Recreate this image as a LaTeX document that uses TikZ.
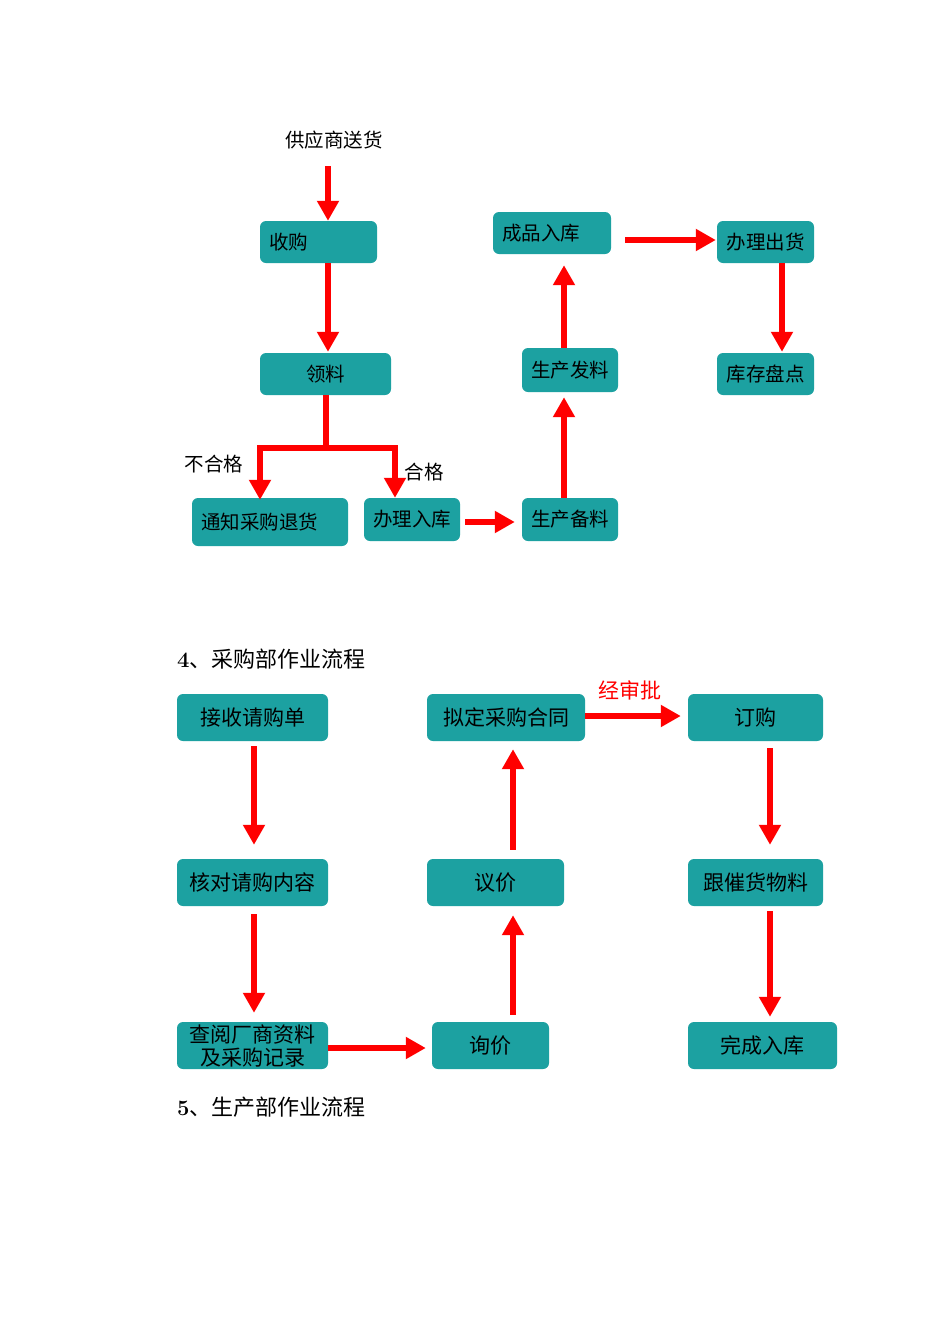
\documentclass[tikz,border=0pt]{standalone}
\usepackage{fontspec}
\newfontfamily\cjk{Noto Sans CJK SC}
\usetikzlibrary{arrows.meta}
\definecolor{boxteal}{RGB}{28,161,161}
\tikzset{
  box/.style={fill=boxteal, rounded corners=6pt, inner sep=0pt, font=\cjk\fontsize{19.5}{22}\selectfont, text=black},
  lbox/.style={box, font=\cjk\fontsize{21}{24}\selectfont},
  arr/.style={draw=red, line width=6.5pt, line join=miter, -{Triangle[width=21pt,length=20pt]}},
  lbl/.style={font=\cjk\fontsize{19.5}{22}\selectfont, inner sep=0pt},
  ttl/.style={font=\cjk\fontsize{22}{25}\selectfont, inner sep=0pt, anchor=west}
}
\begin{document}
\begin{tikzpicture}[x=1pt,y=-1pt]
\useasboundingbox[fill=white] (0,0) rectangle (950,1344);
% ---------- top part ----------
\node[lbl] (gys) at (334,140) {供应商送货};
\node[box, minimum width=117pt, minimum height=42pt, text width=99pt, align=left] (shougou) at (318.5,242) {收购};
\node[box, minimum width=131pt, minimum height=42pt] (liaoliao) at (325.5,374) {领料};
\node[box, minimum width=156pt, minimum height=48pt, text width=138pt, align=left] (tongzhi) at (270,522) {通知采购退货};
\node[box, minimum width=96pt, minimum height=43pt] (banli) at (412,519.5) {办理入库};
\node[box, minimum width=96pt, minimum height=43pt] (beiliao) at (570,519.5) {生产备料};
\node[box, minimum width=96pt, minimum height=44pt] (faliao) at (570,370) {生产发料};
\node[box, minimum width=118pt, minimum height=42pt, text width=100pt, align=left] (chengpin) at (552,233) {成品入库};
\node[box, minimum width=97pt, minimum height=42pt] (chuhuo) at (765.5,242) {办理出货};
\node[box, minimum width=97pt, minimum height=42pt] (pandian) at (765.5,374) {库存盘点};
\node[lbl] (buhege) at (214,464) {不合格};
\node[lbl] (hege) at (424,472) {合格};

\draw[arr] ([shift={(-6,17)}]gys.south) -- ([xshift=9.5pt]shougou.north);
\draw[arr] ([xshift=9.5pt]shougou.south) -- ([shift={(2.5,-1)}]liaoliao.north);
\coordinate (split) at (326,448);
\draw[arr] ([xshift=0.5pt]liaoliao.south) -- (split) -| ([shift={(-10,2)}]tongzhi.north);
\draw[arr] (split) -| ([shift={(-17,0)}]banli.north);
\draw[arr] ([shift={(5,2.5)}]banli.east) -- ([shift={(-7,2.5)}]beiliao.west);
\draw[arr] ([xshift=-6pt]beiliao.north) -- ([shift={(-6,5)}]faliao.south);
\draw[arr] ([xshift=-6pt]faliao.north) -- ([shift={(12,11)}]chengpin.south);
\draw[arr] ([shift={(14,7)}]chengpin.east) -- ([shift={(-1,-2)}]chuhuo.west);
\draw[arr] ([xshift=16.5pt]chuhuo.south) -- ([shift={(16.5,-1)}]pandian.north);

% ---------- section 4 ----------
\node[ttl] (t4) at (177,659) {{\rmfamily\bfseries 4}、采购部作业流程};
\node[lbox, minimum width=151pt, minimum height=47pt] (jieshou) at (252.5,717.5) {接收请购单};
\node[lbox, minimum width=151pt, minimum height=47pt] (hedui) at (252.5,882.5) {核对请购内容};
\node[lbox, minimum width=151pt, minimum height=47pt, align=center] (chayue) at (252.5,1045.5) {查阅厂商资料\\[-1pt]及采购记录};
\node[lbox, minimum width=117pt, minimum height=47pt] (xunjia) at (490.5,1045.5) {询价};
\node[lbox, minimum width=137pt, minimum height=47pt] (yijia) at (495.5,882.5) {议价};
\node[lbox, minimum width=158pt, minimum height=47pt] (niding) at (506,717.5) {拟定采购合同};
\node[lbox, minimum width=135pt, minimum height=47pt] (dinggou) at (755.5,717.5) {订购};
\node[lbox, minimum width=135pt, minimum height=47pt] (gencui) at (755.5,882.5) {跟催货物料};
\node[lbox, minimum width=149pt, minimum height=47pt] (wancheng) at (762.5,1045.5) {完成入库};
\node[lbl, text=red, font=\cjk\fontsize{21}{24}\selectfont] (shenpi) at (630,690) {经审批};

\draw[arr] ([shift={(1.5,5)}]jieshou.south) -- ([shift={(1.5,-14)}]hedui.north);
\draw[arr] ([shift={(1.5,8)}]hedui.south) -- ([shift={(1.5,-9)}]chayue.north);
\draw[arr] ([shift={(0,2.5)}]chayue.east) -- ([shift={(-6,2.5)}]xunjia.west);
\draw[arr] ([shift={(22.5,-7)}]xunjia.north) -- ([shift={(17.5,9)}]yijia.south);
\draw[arr] ([shift={(17.5,-9)}]yijia.north) -- ([shift={(7,8)}]niding.south);
\draw[arr] ([shift={(0,-1.5)}]niding.east) -- ([shift={(-7,-1.5)}]dinggou.west);
\draw[arr] ([shift={(14.5,7)}]dinggou.south) -- ([shift={(14.5,-14)}]gencui.north);
\draw[arr] ([shift={(14.5,5)}]gencui.south) -- ([shift={(7.5,-5)}]wancheng.north);

% ---------- section 5 ----------
\node[ttl] (t5) at (177,1107) {{\rmfamily\bfseries 5}、生产部作业流程};
\end{tikzpicture}
\end{document}
